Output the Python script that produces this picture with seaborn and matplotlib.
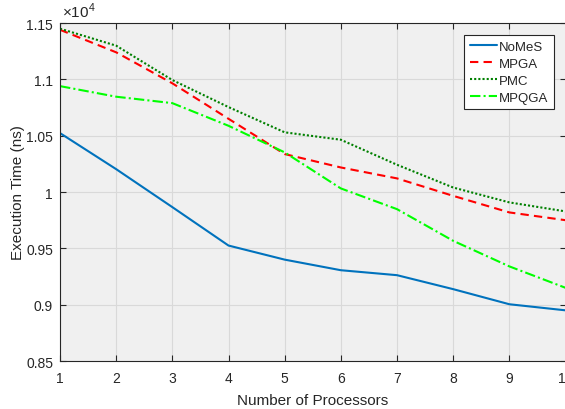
import matplotlib
matplotlib.use("Agg")
import matplotlib.pyplot as plt
import seaborn as sns
import pandas as pd
from matplotlib.ticker import FuncFormatter

# data (execution time in ns)
processors = [1, 2, 3, 4, 5, 6, 7, 8, 9, 10]
nomes = [10523, 10203, 9866, 9525, 9400, 9306, 9262, 9138, 9004, 8950]
mpga = [11440, 11240, 10965, 10650, 10337, 10218, 10121, 9966, 9819, 9750]
pmc = [11450, 11299, 10994, 10754, 10530, 10464, 10242, 10040, 9908, 9828]
mpqga = [10940, 10846, 10789, 10588, 10352, 10032, 9848, 9567, 9340, 9150]

series_names = ["NoMeS", "MPGA", "PMC", "MPQGA"]
series_vals = [nomes, mpga, pmc, mpqga]
colors = ["#0072BD", "#FF0000", "#008000", "#00FF00"]
styles = ["-", (0, (4, 2.5)), (0, (1, 1)), (0, (5, 1.5, 1, 1.5))]

sns.set_style("ticks")
plt.rcParams["font.family"] = ["Liberation Sans", "DejaVu Sans"]
plt.rcParams["mathtext.fontset"] = "custom"
plt.rcParams["mathtext.rm"] = "Liberation Sans"

fig = plt.figure(figsize=(5.65, 4.10), dpi=100)
ax = fig.add_axes([0.1062, 0.117, 0.8947, 0.8244])
ax.set_facecolor("#F0F0F0")

for name, vals, c, ls in zip(series_names, series_vals, colors, styles):
    df = pd.DataFrame({"Processors": processors, "Time": vals})
    sns.lineplot(data=df, x="Processors", y="Time", color=c, linestyle=ls,
                 linewidth=1.5, label=name, ax=ax)

ax.set_xlim(1, 10)
ax.set_ylim(8500, 11500)
ax.set_xticks(processors)
ax.set_yticks([8500, 9000, 9500, 10000, 10500, 11000, 11500])
ax.yaxis.set_major_formatter(FuncFormatter(lambda v, p: f"{v / 1e4:g}"))

ax.grid(True, color="#D9D9D9", linewidth=0.8)
ax.set_axisbelow(True)
ax.tick_params(direction="in", length=4, width=0.8, colors="#262626",
               labelsize=10, top=True, right=True)
ax.tick_params(axis="x", pad=7)
ax.tick_params(axis="y", pad=5)
for s in ax.spines.values():
    s.set_color("#262626")
    s.set_linewidth(0.8)

ax.set_xlabel("Number of Processors", fontsize=11, color="#262626", labelpad=6)
ax.set_ylabel("Execution Time (ns)", fontsize=11, color="#262626", labelpad=1)
ax.text(0.003, 1.01, r"$\times10^{4}$", transform=ax.transAxes, fontsize=11,
        color="#262626", ha="left", va="bottom")

leg = ax.legend(loc="upper right", bbox_to_anchor=(0.985, 0.975), fontsize=9.5,
                frameon=True, fancybox=False, handlelength=2.05, handletextpad=0.2,
                borderpad=0.4, labelspacing=0.36, borderaxespad=0.3)
leg.get_frame().set_edgecolor("#262626")
leg.get_frame().set_linewidth(0.8)
leg.get_frame().set_facecolor("white")
leg.get_frame().set_alpha(1)

fig.savefig("out.png", dpi=100)
